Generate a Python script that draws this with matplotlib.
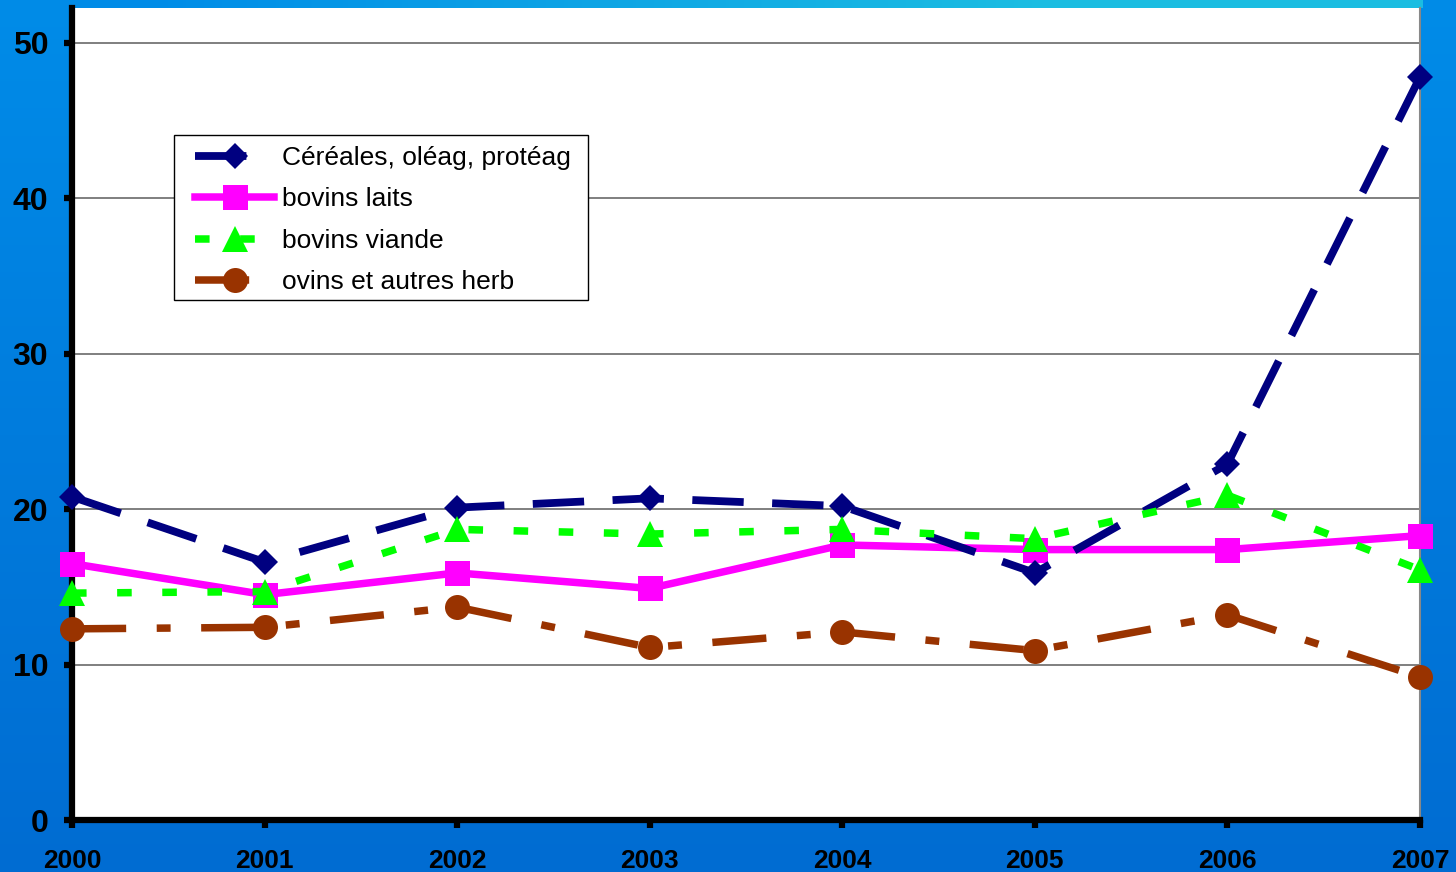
import numpy as np
import matplotlib
matplotlib.use("Agg")
import matplotlib.pyplot as plt
from matplotlib.patches import Rectangle

plt.rcParams['font.family'] = ['Liberation Sans', 'DejaVu Sans']
plt.rcParams['lines.scale_dashes'] = False

years = [2000, 2001, 2002, 2003, 2004, 2005, 2006, 2007]
cereales = [20.8, 16.6, 20.1, 20.7, 20.2, 15.9, 22.9, 47.8]
bovins_laits = [16.5, 14.5, 15.9, 14.9, 17.7, 17.4, 17.4, 18.3]
bovins_viande = [14.6, 14.7, 18.7, 18.4, 18.7, 18.1, 20.9, 16.1]
ovins = [12.3, 12.4, 13.7, 11.1, 12.1, 10.9, 13.2, 9.2]
labels = ["Céréales, oléag, protéag", "bovins laits", "bovins viande", "ovins et autres herb"]
yticks = [0, 10, 20, 30, 40, 50]

W, H = 1456, 872
fig = plt.figure(figsize=(W / 100, H / 100), dpi=100)

# background gradient
bg = fig.add_axes([0, 0, 1, 1], zorder=-10)
yy = np.linspace(0, 1, H)[:, None]
top = np.array([0, 140, 232]) / 255
bot = np.array([0, 108, 210]) / 255
img = top[None, None, :] * (1 - yy[..., None]) + bot[None, None, :] * yy[..., None]
img = np.repeat(img, W, axis=1)
cyan = np.array([28, 190, 226]) / 255
xs = np.arange(W)
frac = np.clip((xs - 150) / 900, 0, 1)
frac[xs > 1422] = 0
strip = top[None, :] * (1 - frac[:, None]) + cyan[None, :] * frac[:, None]
img[:9, :, :] = strip[None, :, :]
bg.imshow(img, aspect='auto', extent=[0, 1, 0, 1])
bg.axis('off')

ax = fig.add_axes([72 / W, (H - 820) / H, (1420 - 72) / W, (820 - 8) / H])
ax.set_facecolor('white')
ax.set_xlim(2000, 2007)
ax.set_ylim(0, 52.25)

for v in yticks[1:]:
    ax.axhline(v, color='#6a6a6a', lw=1.2, zorder=1)

ax.plot(years, cereales, color='#000080', lw=5.6, dashes=(37, 20.5),
        marker='D', ms=13.5, mew=0, label=labels[0], zorder=5, clip_on=False)
ax.plot(years, bovins_laits, color='#ff00ff', lw=5.4, ls='-',
        marker='s', ms=18, mew=0, label=labels[1], zorder=4, clip_on=False)
ax.plot(years, bovins_viande, color='#00ff00', lw=5.4, dashes=(10.5, 22),
        marker='^', ms=19, mew=0, label=labels[2], zorder=6, clip_on=False)
ax.plot(years, ovins, color='#993300', lw=5.4, dashes=(39, 22, 10, 22),
        marker='o', ms=18, mew=0, label=labels[3], zorder=4, clip_on=False)

ax.set_xticks(years)
ax.set_xticklabels([str(y) for y in years])
ax.set_yticks(yticks)
ax.spines['top'].set_visible(False)
ax.spines['right'].set_color('#888888')
ax.spines['right'].set_linewidth(1.5)
ax.spines['left'].set_linewidth(4.5)
ax.spines['bottom'].set_linewidth(4.5)
ax.tick_params(axis='y', direction='out', length=6, width=4.5, pad=11,
               labelsize=23)
ax.tick_params(axis='x', direction='out', length=6, width=4.5, pad=15,
               labelsize=19)
for t in ax.get_xticklabels() + ax.get_yticklabels():
    t.set_fontweight('bold')

# legend frame drawn manually
frame = Rectangle((174 / W, 1 - 300 / H), (588 - 174) / W, (300 - 135) / H,
                  transform=fig.transFigure, facecolor='white',
                  edgecolor='black', lw=1.0, zorder=9, clip_on=False)
ax.add_artist(frame)
leg = ax.legend(loc='upper left', bbox_to_anchor=(195 / W, 1 - 146 / H),
                bbox_transform=fig.transFigure, fontsize=19, frameon=False,
                handlelength=3.0, handletextpad=0.3, labelspacing=0.66,
                borderpad=0, borderaxespad=0)
leg.set_zorder(10)

fig.savefig('out.png', dpi=100)
